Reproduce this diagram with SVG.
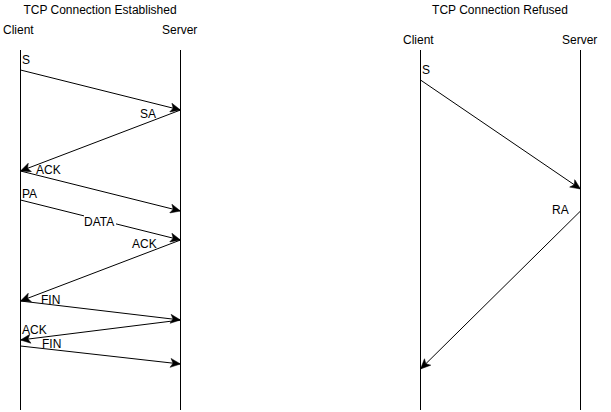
<svg xmlns="http://www.w3.org/2000/svg" width="611" height="412" viewBox="0 0 611 412">
<style>
text{font-family:"Liberation Sans",Arial,sans-serif;font-size:12px;fill:#000}
.life{stroke:#000;stroke-width:1;fill:none}
.msg{stroke:#000;stroke-width:1;fill:none;marker-end:url(#arr)}
</style>
<defs>
<marker id="arr" markerUnits="userSpaceOnUse" markerWidth="12" markerHeight="10" viewBox="-1 -5 12 10" refX="10" refY="0" orient="auto">
<path d="M0,-4.5 L10,0 L0,4.5 L2.5,0 Z" fill="#000" stroke="#000" stroke-width="0.5"/>
</marker>
</defs>
<rect width="611" height="412" fill="#fff"/>
<g id="established">
<text x="100" y="14" text-anchor="middle">TCP Connection Established</text>
<g id="client1"><text x="3" y="34">Client</text><line class="life" x1="20.5" y1="50" x2="20.5" y2="410"/></g>
<g id="server1"><text x="162" y="34">Server</text><line class="life" x1="180.5" y1="50" x2="180.5" y2="410"/></g>
</g>
<g id="refused">
<text x="500" y="14" text-anchor="middle">TCP Connection Refused</text>
<g id="client2"><text x="403" y="44">Client</text><line class="life" x1="420.5" y1="50" x2="420.5" y2="410"/></g>
<g id="server2"><text x="562" y="44">Server</text><line class="life" x1="580.5" y1="50" x2="580.5" y2="410"/></g>
</g>
<g id="connectors">
<line class="msg" x1="20.5" y1="70" x2="180.5" y2="110"/>
<line class="msg" x1="180.5" y1="110" x2="20.5" y2="171"/>
<line class="msg" x1="20.5" y1="171" x2="180.5" y2="211"/>
<line class="msg" x1="20.5" y1="200" x2="180.5" y2="240"/>
<line class="msg" x1="180.5" y1="240" x2="20.5" y2="301"/>
<line class="msg" x1="20.5" y1="301" x2="180.5" y2="320"/>
<line class="msg" x1="180.5" y1="320" x2="20.5" y2="340"/>
<line class="msg" x1="20.5" y1="346" x2="180.5" y2="364"/>
<line class="msg" x1="420.5" y1="80" x2="580.5" y2="189"/>
<line class="msg" x1="580.5" y1="211" x2="420.5" y2="369"/>
</g>
<g id="labels">
<text x="22" y="64">S</text>
<text x="140" y="118">SA</text>
<text x="36" y="174">ACK</text>
<text x="22" y="198">PA</text>
<rect x="84" y="214" width="32" height="14" fill="#fff"/>
<text x="84" y="226">DATA</text>
<text x="132" y="248">ACK</text>
<text x="41" y="304">FIN</text>
<text x="22" y="334">ACK</text>
<text x="42" y="348">FIN</text>
<text x="422" y="74">S</text>
<text x="552" y="214">RA</text>
</g>
</svg>
